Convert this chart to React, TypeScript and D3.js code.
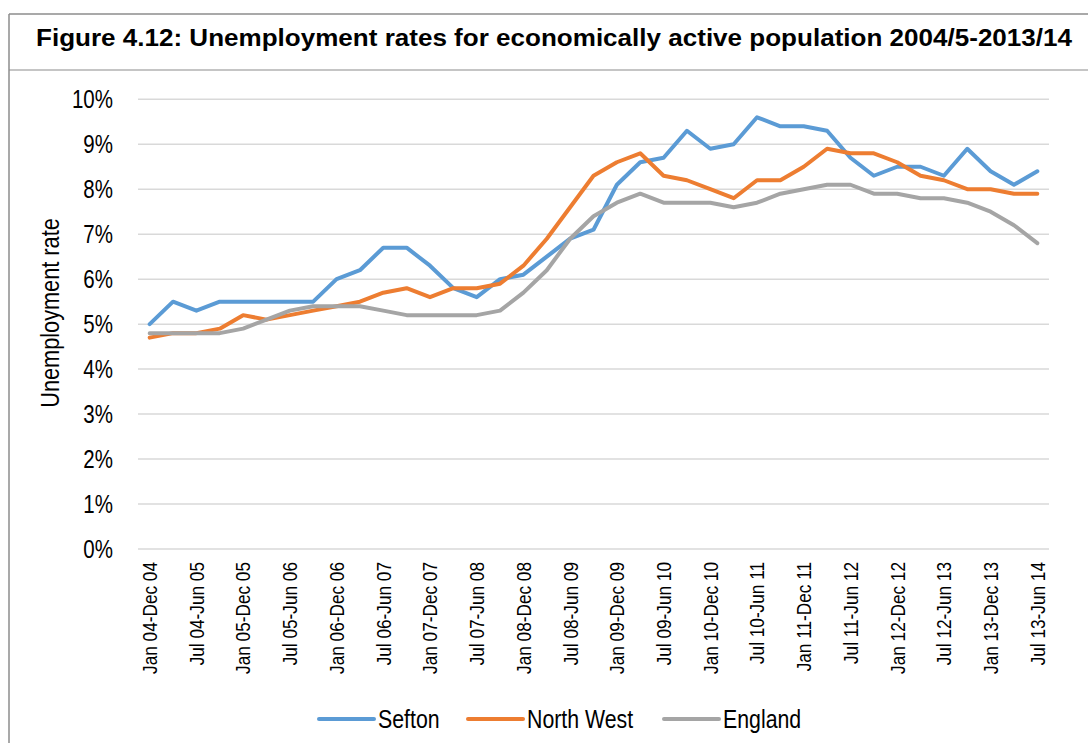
import React from "react";
import * as d3 from "d3";

const categories = [
  "Jan 04-Dec 04", "Apr 04-Mar 05", "Jul 04-Jun 05", "Oct 04-Sep 05",
  "Jan 05-Dec 05", "Apr 05-Mar 06", "Jul 05-Jun 06", "Oct 05-Sep 06",
  "Jan 06-Dec 06", "Apr 06-Mar 07", "Jul 06-Jun 07", "Oct 06-Sep 07",
  "Jan 07-Dec 07", "Apr 07-Mar 08", "Jul 07-Jun 08", "Oct 07-Sep 08",
  "Jan 08-Dec 08", "Apr 08-Mar 09", "Jul 08-Jun 09", "Oct 08-Sep 09",
  "Jan 09-Dec 09", "Apr 09-Mar 10", "Jul 09-Jun 10", "Oct 09-Sep 10",
  "Jan 10-Dec 10", "Apr 10-Mar 11", "Jul 10-Jun 11", "Oct 10-Sep 11",
  "Jan 11-Dec 11", "Apr 11-Mar 12", "Jul 11-Jun 12", "Oct 11-Sep 12",
  "Jan 12-Dec 12", "Apr 12-Mar 13", "Jul 12-Jun 13", "Oct 12-Sep 13",
  "Jan 13-Dec 13", "Apr 13-Mar 14", "Jul 13-Jun 14",
];

const sefton = [
  5.0, 5.5, 5.3, 5.5, 5.5, 5.5, 5.5, 5.5, 6.0, 6.2, 6.7, 6.7, 6.3, 5.8, 5.6, 6.0,
  6.1, 6.5, 6.9, 7.1, 8.1, 8.6, 8.7, 9.3, 8.9, 9.0, 9.6, 9.4, 9.4, 9.3, 8.7, 8.3,
  8.5, 8.5, 8.3, 8.9, 8.4, 8.1, 8.4,
];
const northWest = [
  4.7, 4.8, 4.8, 4.9, 5.2, 5.1, 5.2, 5.3, 5.4, 5.5, 5.7, 5.8, 5.6, 5.8, 5.8, 5.9,
  6.3, 6.9, 7.6, 8.3, 8.6, 8.8, 8.3, 8.2, 8.0, 7.8, 8.2, 8.2, 8.5, 8.9, 8.8, 8.8,
  8.6, 8.3, 8.2, 8.0, 8.0, 7.9, 7.9,
];
const england = [
  4.8, 4.8, 4.8, 4.8, 4.9, 5.1, 5.3, 5.4, 5.4, 5.4, 5.3, 5.2, 5.2, 5.2, 5.2, 5.3,
  5.7, 6.2, 6.9, 7.4, 7.7, 7.9, 7.7, 7.7, 7.7, 7.6, 7.7, 7.9, 8.0, 8.1, 8.1, 7.9,
  7.9, 7.8, 7.8, 7.7, 7.5, 7.2, 6.8,
];

const seriesNames = ["Sefton", "North West", "England"];
const seriesColors = ["#5b9bd5", "#ed7d31", "#a5a5a5"];
const yTicks = [0, 1, 2, 3, 4, 5, 6, 7, 8, 9, 10];

const W = 1088;
const H = 743;
const FONT = "'Liberation Sans', Arial, sans-serif";
const NX = 0.82; // horizontal squeeze to mimic a narrow face

export default function App() {
  const x = d3.scaleBand<string>().domain(categories).range([138, 1049]);
  const y = d3.scaleLinear().domain([0, 10]).range([549, 99.3]);
  const cx = (c: string) => (x(c) as number) + x.bandwidth() / 2;
  const line = d3
    .line<number>()
    .x((_, i) => cx(categories[i]))
    .y((d) => y(d));
  const allSeries = [sefton, northWest, england];

  const legendX = [319, 468, 664];
  const legendY = 719;

  return (
    <svg
      width={W}
      height={H}
      style={{ position: "absolute", left: 0, top: 0, background: "#fff" }}
    >
      <rect x={0} y={0} width={W} height={H} fill="#fff" />
      {/* frame */}
      <line x1={9} y1={14} x2={W} y2={14} stroke="#8c8c8c" strokeWidth={1.5} />
      <line x1={9} y1={14} x2={9} y2={H} stroke="#8c8c8c" strokeWidth={1.5} />
      <line x1={9} y1={70} x2={W} y2={70} stroke="#8c8c8c" strokeWidth={1.2} />
      <text
        x={36}
        y={46}
        fontFamily={FONT}
        fontWeight="bold"
        fontSize={23.5}
        fill="#000"
        textLength={1036}
        lengthAdjust="spacingAndGlyphs"
      >
        Figure 4.12: Unemployment rates for economically active population 2004/5-2013/14
      </text>

      {/* gridlines */}
      {yTicks.map((t) => (
        <line
          key={"g" + t}
          x1={138}
          x2={1049}
          y1={y(t)}
          y2={y(t)}
          stroke="#d9d9d9"
          strokeWidth={1.5}
        />
      ))}
      {/* y tick labels */}
      {yTicks.map((t) => (
        <text
          key={"yl" + t}
          transform={`translate(113,${y(t)}) scale(${NX},1)`}
          dy="0.35em"
          textAnchor="end"
          fontFamily={FONT}
          fontSize={25}
          fill="#000"
        >
          {t + "%"}
        </text>
      ))}
      {/* y axis title */}
      <text
        transform={`translate(59,313) rotate(-90) scale(${NX},1)`}
        textAnchor="middle"
        fontFamily={FONT}
        fontSize={26.5}
        fill="#000"
      >
        Unemployment rate
      </text>

      {/* x labels */}
      {categories.map((c, i) =>
        i % 2 === 0 ? (
          <text
            key={"xl" + i}
            transform={`translate(${cx(c)},562) rotate(-90) scale(${NX},1)`}
            textAnchor="end"
            dy="0.35em"
            fontFamily={FONT}
            fontSize={21}
            fill="#000"
          >
            {c}
          </text>
        ) : null
      )}

      {/* lines */}
      {allSeries.map((s, k) => (
        <path
          key={"s" + k}
          d={line(s) || ""}
          fill="none"
          stroke={seriesColors[k]}
          strokeWidth={4}
          strokeLinejoin="round"
          strokeLinecap="round"
        />
      ))}

      {/* legend */}
      {seriesNames.map((n, k) => (
        <g key={"lg" + k}>
          <line
            x1={legendX[k]}
            x2={legendX[k] + 55}
            y1={legendY}
            y2={legendY}
            stroke={seriesColors[k]}
            strokeWidth={4}
            strokeLinecap="round"
          />
          <text
            transform={`translate(${legendX[k] + 59},${legendY}) scale(${NX},1)`}
            dy="0.35em"
            fontFamily={FONT}
            fontSize={26}
            fill="#000"
          >
            {n}
          </text>
        </g>
      ))}
    </svg>
  );
}
